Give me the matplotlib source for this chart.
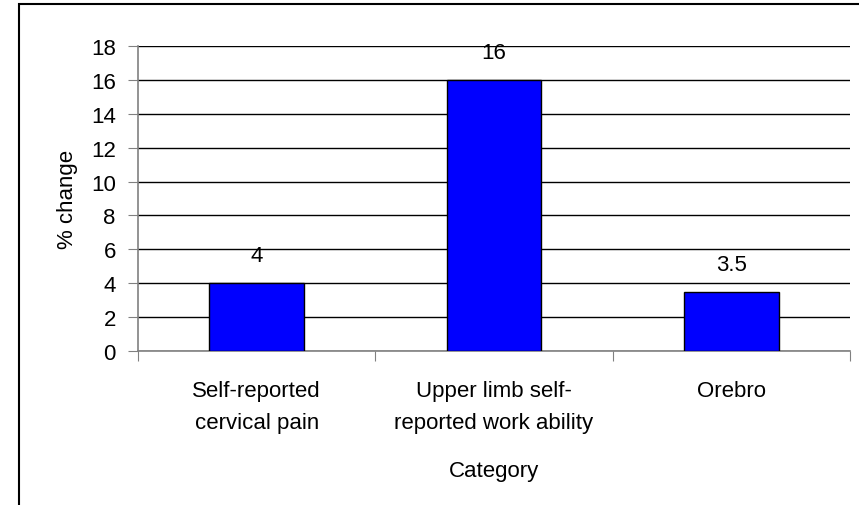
import numpy as np
import matplotlib.pyplot as plt
from matplotlib.patches import Rectangle

plt.rcParams['font.family'] = ['Liberation Sans', 'DejaVu Sans']

categories = ['Self-reported\ncervical pain', 'Upper limb self-\nreported work ability', 'Orebro']
values = [4, 16, 3.5]
labels = ['4', '16', '3.5']

W, H = 859, 506
fs = 16
fig = plt.figure(figsize=(W / 100, H / 100), dpi=100)
ax = fig.add_axes([138 / W, 1 - 352 / H, (850 - 138) / W, (352 - 47) / H])

x = np.arange(len(categories))
ax.bar(x, values, width=0.4, color='#0000ff', edgecolor='black', linewidth=1, zorder=3)
for xi, v, s in zip(x, values, labels):
    ax.text(xi, v + 1.0, s, ha='center', va='bottom', fontsize=fs)

ax.set_xlim(-0.5, 2.5)
ax.set_ylim(0, 18)
ax.set_yticks(np.arange(0, 19, 2))
ax.yaxis.grid(True, color='black', linewidth=1)
ax.set_axisbelow(True)
ax.tick_params(axis='y', labelsize=fs, length=7, color='#808080', pad=9)
ax.set_xticks([-0.5, 0.5, 1.5, 2.5])
ax.set_xticklabels([])
ax.tick_params(axis='x', length=7, color='#808080')
ax.set_xticks(x, minor=True)
ax.set_xticklabels(categories, minor=True, fontsize=fs, linespacing=1.65)
ax.tick_params(axis='x', which='minor', length=0, pad=21)
for side in ['top', 'right']:
    ax.spines[side].set_visible(False)
for side in ['left', 'bottom']:
    ax.spines[side].set_color('#808080')
    ax.spines[side].set_linewidth(1.2)

ax.set_ylabel('% change', fontsize=fs, labelpad=9)
ax.set_xlabel('Category', fontsize=fs, labelpad=20)

fig.patches.append(Rectangle((19 / W, -0.1), 1.0, 1.1 - 5 / H,
                             transform=fig.transFigure, fill=False,
                             edgecolor='black', linewidth=1.5))

fig.savefig('out.png', dpi=100)
